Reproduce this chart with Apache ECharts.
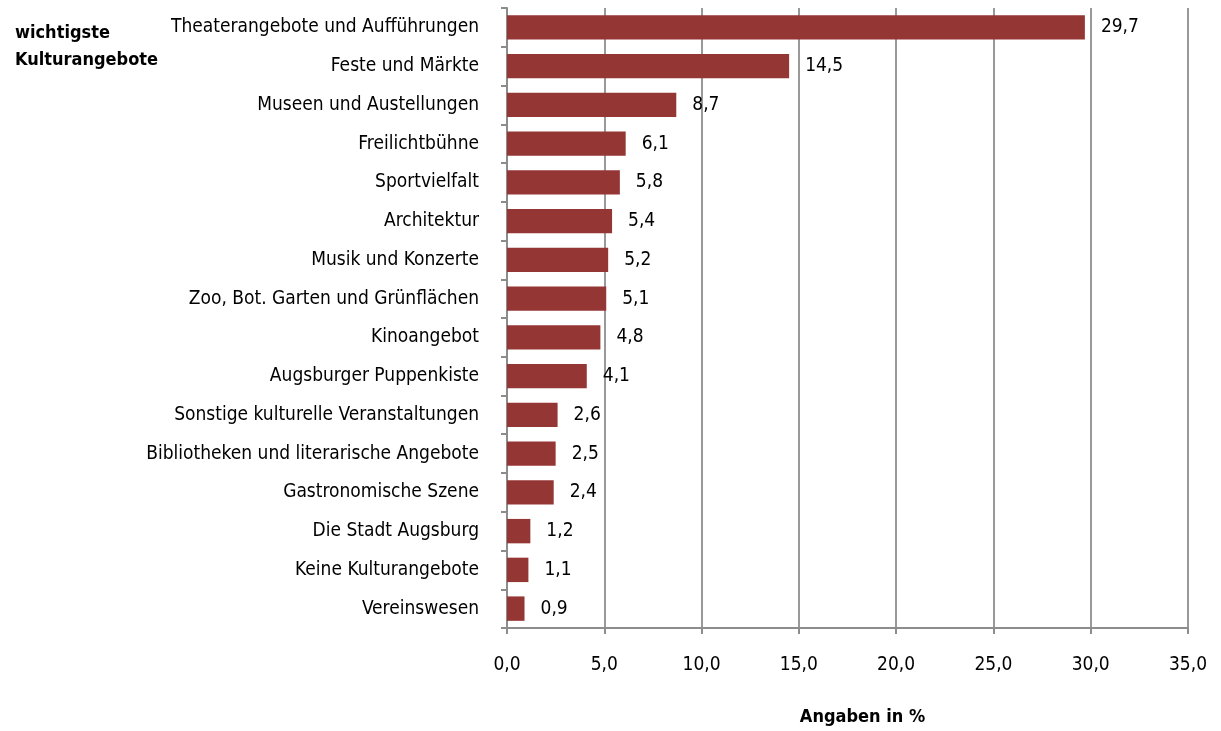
<!DOCTYPE html>
<html>
<head>
<meta charset="utf-8">
<script src="https://cdn.jsdelivr.net/npm/echarts@6/dist/echarts.min.js"></script>
<style>
    html, body { margin: 0; padding: 0; background: #fff; }
    #chart { width: 1221px; height: 731px; }
</style>
</head>
<body>
<div id="chart"></div>
<script>
    // Kategorien von oben nach unten
    var categories = [
        'Theaterangebote und Aufführungen',
        'Feste und Märkte',
        'Museen und Austellungen',
        'Freilichtbühne',
        'Sportvielfalt',
        'Architektur',
        'Musik und Konzerte',
        'Zoo, Bot. Garten und Grünflächen',
        'Kinoangebot',
        'Augsburger Puppenkiste',
        'Sonstige kulturelle Veranstaltungen',
        'Bibliotheken und literarische Angebote',
        'Gastronomische Szene',
        'Die Stadt Augsburg',
        'Keine Kulturangebote',
        'Vereinswesen'
    ];
    var values = [29.7, 14.5, 8.7, 6.1, 5.8, 5.4, 5.2, 5.1, 4.8, 4.1, 2.6, 2.5, 2.4, 1.2, 1.1, 0.9];
    var xTicks = [0, 5, 10, 15, 20, 25, 30, 35];

    var font = "'Liberation Sans Narrow', 'DejaVu Sans Condensed', sans-serif";
    var fmt = function (v) { return v.toFixed(1).replace('.', ','); };

    var myChart = echarts.init(document.getElementById('chart'));
    myChart.setOption({
        animation: false,
        textStyle: { fontFamily: font },
        title: {
            text: 'wichtigste\nKulturangebote',
            left: 10,
            top: 15,
            textStyle: { fontFamily: font, fontSize: 18, fontWeight: 'bold', color: '#000', lineHeight: 27 }
        },
        grid: { left: 507, right: 33, top: 8, bottom: 103 },
        xAxis: {
            type: 'value',
            min: xTicks[0],
            max: xTicks[xTicks.length - 1],
            interval: 5,
            name: 'Angaben in %',
            nameLocation: 'middle',
            nameGap: 80,
            nameTextStyle: { fontFamily: font, fontSize: 18, fontWeight: 'bold', color: '#000', padding: [0, 0, 0, 30] },
            axisLine: { show: true, lineStyle: { color: '#8c8c8c', width: 2 } },
            axisTick: { show: true, length: 6, lineStyle: { color: '#8c8c8c', width: 2 } },
            axisLabel: { formatter: fmt, fontSize: 19, color: '#000', margin: 28 },
            splitLine: { show: true, lineStyle: { color: '#999', width: 2 } }
        },
        yAxis: {
            type: 'category',
            inverse: true,
            data: categories,
            axisLine: { show: true, lineStyle: { color: '#8c8c8c', width: 2 } },
            axisTick: { show: true, length: 6, lineStyle: { color: '#8c8c8c', width: 2 } },
            axisLabel: { fontSize: 19, color: '#000', margin: 28 }
        },
        series: [{
            type: 'bar',
            data: values,
            barCategoryGap: '37%',
            itemStyle: { color: '#943634' },
            label: {
                show: true,
                position: 'right',
                distance: 16,
                fontSize: 19,
                color: '#000',
                formatter: function (p) { return fmt(p.value); }
            }
        }]
    });
</script>
</body>
</html>
